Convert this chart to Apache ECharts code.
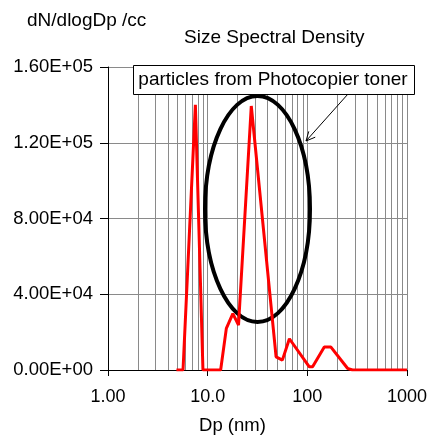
<!DOCTYPE html>
<html>
<head>
<meta charset="utf-8">
<script src="https://cdn.jsdelivr.net/npm/echarts@6/dist/echarts.min.js"></script>
<style>
  html, body { margin: 0; padding: 0; background: #fff; }
  #chart { width: 430px; height: 440px; }
</style>
</head>
<body>
<div id="chart"></div>
<script>
// particle diameter (nm) and concentration
const dp = [4.86, 5.66, 7.53, 8.97, 13.5, 15.4, 17.9, 20.4, 27.4, 48.6, 56.2, 66.1, 104.7, 113, 148, 172.6, 253, 284, 1000];
const dN = [0, 0, 140000, 0, 0, 22000, 29800, 23700, 139400, 6900, 5200, 16500, 1700, 1700, 12100, 12100, 900, 0, 0];

const xTickLabels = ['1.00', '10.0', '100', '1000'];
const yTickLabels = ['0.00E+00', '4.00E+04', '8.00E+04', '1.20E+05', '1.60E+05'];

// minor log grid lines: 2..9 in each decade
const minorGrid = [];
[1, 10, 100].forEach(d => {
    for (let k = 2; k <= 9; k++) minorGrid.push(k * d);
});

const font = 'Arial, "Liberation Sans", sans-serif';
const gridColor = '#8a8a8a';

const chart = echarts.init(document.getElementById('chart'));

// arrow from text box to the ellipse
const arrowFrom = [348, 94];
const arrowTo = [306, 141];
const ang = Math.atan2(arrowTo[1] - arrowFrom[1], arrowTo[0] - arrowFrom[0]);
const headLen = 10;
const head = [-0.45, 0.45].map(a => [
    arrowTo[0] - headLen * Math.cos(ang + a),
    arrowTo[1] - headLen * Math.sin(ang + a)
]);

const option = {
    animation: false,
    backgroundColor: '#fff',
    title: [
        {
            text: 'Size Spectral Density',
            left: 184,
            top: 28,
            padding: 0,
            textStyle: { fontFamily: font, fontSize: 19, fontWeight: 'normal', color: '#000' }
        },
        {
            text: 'dN/dlogDp /cc',
            left: 27,
            top: 11,
            padding: 0,
            textStyle: { fontFamily: font, fontSize: 19, fontWeight: 'normal', color: '#000' }
        }
    ],
    grid: { left: 108, right: 22, top: 67, bottom: 65 },
    xAxis: {
        type: 'log',
        logBase: 10,
        min: 1,
        max: 1000,
        name: 'Dp (nm)',
        nameLocation: 'middle',
        nameGap: 46,
        nameTextStyle: { fontFamily: font, fontSize: 18.5, color: '#000', padding: [0, 50, 0, 0] },
        axisLine: { lineStyle: { color: '#000', width: 1 } },
        axisTick: { show: true, inside: false, length: 6, lineStyle: { color: '#000' } },
        axisLabel: {
            margin: 18,
            fontFamily: font,
            fontSize: 18,
            color: '#000',
            formatter: v => xTickLabels[Math.round(Math.log10(v))]
        },
        splitLine: { show: true, lineStyle: { color: gridColor, width: 1 } },
        minorTick: { show: false },
        minorSplitLine: { show: false }
    },
    yAxis: {
        type: 'value',
        min: 0,
        max: 160000,
        interval: 40000,
        axisLine: { show: true, lineStyle: { color: '#000', width: 1 } },
        axisTick: { show: true, inside: false, length: 8, lineStyle: { color: '#000' } },
        axisLabel: {
            margin: 15,
            fontFamily: font,
            fontSize: 18.5,
            color: '#000',
            formatter: v => yTickLabels[Math.round(v / 40000)]
        },
        splitLine: { show: true, lineStyle: { color: gridColor, width: 1 } }
    },
    series: [
        {
            type: 'line',
            z: 3,
            data: dp.map((x, i) => [x, dN[i]]),
            symbol: 'none',
            lineStyle: { color: '#ff0000', width: 3 },
            markLine: {
                z: 1,
                silent: true,
                symbol: ['none', 'none'],
                label: { show: false },
                lineStyle: { color: gridColor, width: 1, type: 'solid' },
                emphasis: { disabled: true },
                data: minorGrid.map(v => ({ xAxis: v }))
            }
        }
    ],
    graphic: [
        {
            type: 'ellipse',
            z: 2,
            shape: { cx: 257.5, cy: 209, rx: 52.5, ry: 113 },
            style: { fill: null, stroke: '#000', lineWidth: 4 }
        },
        {
            type: 'line',
            z: 10,
            shape: { x1: arrowFrom[0], y1: arrowFrom[1], x2: arrowTo[0], y2: arrowTo[1] },
            style: { stroke: '#000', lineWidth: 1 }
        },
        {
            type: 'polyline',
            z: 10,
            shape: { points: [head[0], arrowTo, head[1]] },
            style: { stroke: '#000', lineWidth: 1, fill: null }
        },
        {
            type: 'rect',
            z: 10,
            shape: { x: 133.5, y: 65.5, width: 281, height: 29 },
            style: { fill: '#fff', stroke: '#000', lineWidth: 1 }
        },
        {
            type: 'text',
            z: 11,
            x: 273,
            y: 80,
            style: {
                text: 'particles from Photocopier toner',
                fontFamily: font,
                fontSize: 19,
                fill: '#000',
                align: 'center',
                verticalAlign: 'middle'
            }
        }
    ]
};

chart.setOption(option);
window.addEventListener('resize', () => chart.resize());
</script>
</body>
</html>
